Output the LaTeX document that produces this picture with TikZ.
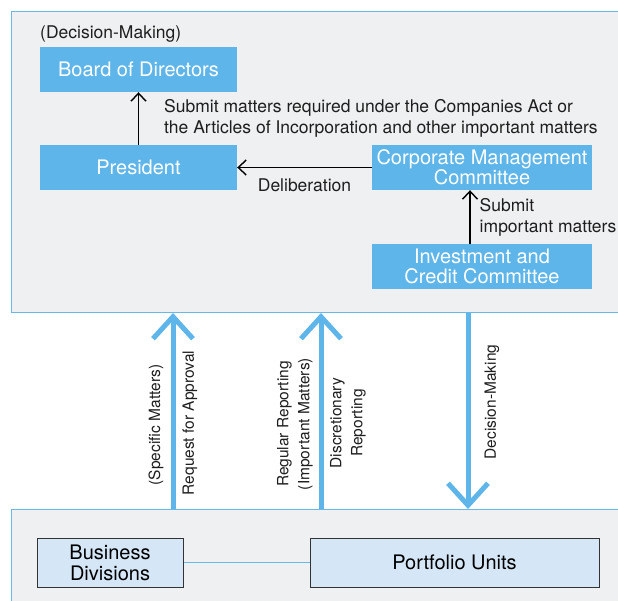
\documentclass[tikz,border=0pt]{standalone}
\usepackage{fontspec}
\setmainfont{TeX Gyre Heros}
\usetikzlibrary{arrows.meta}
\definecolor{BoxClr}{RGB}{94,181,234}
\definecolor{PanelClr}{RGB}{239,240,242}
\definecolor{EdgeClr}{RGB}{104,184,232}
\definecolor{UnitClr}{RGB}{213,230,246}
\definecolor{TextClr}{RGB}{30,30,30}

\begin{document}
\begin{tikzpicture}[x=1pt,y=-1pt,
  panel/.style={draw=EdgeClr,fill=PanelClr,line width=1pt,inner sep=0pt},
  organ/.style={fill=BoxClr,text=white,font=\fontsize{20}{20}\selectfont,align=center,inner sep=0pt,minimum height=45pt},
  unit/.style={fill=UnitClr,draw=black!80,line width=1pt,font=\fontsize{20}{21}\selectfont,align=center,inner sep=0pt,minimum height=49pt},
  note/.style={text=TextClr,font=\fontsize{17.5}{21}\selectfont,align=left,inner sep=0pt},
  flowtxt/.style={text=TextClr,font=\fontsize{15.5}{21}\selectfont,rotate=90,align=center,inner sep=0pt},
  link/.style={-{Straight Barb[length=8pt,width=15pt]},line width=1.4pt},
  bigflow/.style={-{Straight Barb[length=22pt,width=40pt]},line width=5pt,draw=BoxClr},
]
\useasboundingbox (0,0) rectangle (618,600);
\clip (0,0) rectangle (618,600);

% panels
\node[panel,minimum width=629pt,minimum height=301pt,anchor=north west] (upper) at (11,11) {};
\node[panel,minimum width=629pt,minimum height=120pt,anchor=north west] (lower) at (11,509) {};

% decision bodies
\node[organ,minimum width=197pt] (board) at (138.5,69.5) {Board of Directors};
\node[organ,minimum width=197pt] (pres) at (138.5,167.5) {President};
\node[organ,minimum width=220pt] (cmc) at (482,167.5) {Corporate Management\\Committee};
\node[organ,minimum width=220pt] (icc) at (482,266.5) {Investment and\\Credit Committee};
\node[note,anchor=west] (dm) at (40,34) {(Decision-Making)};

\draw[link] (pres) -- (board);
\node[note,anchor=west] (submit) at (164,118.5) {Submit matters required under the Companies Act or\\the Articles of Incorporation and other important matters};
\draw[link] (cmc) -- node[note,below=11pt] (delib) {Deliberation} (pres);
\draw[link] ([xshift=-12pt]icc.north) -- node[note,right=9pt] (submit2) {Submit\\important matters} ([xshift=-12pt]cmc.south);

% flows between levels
\coordinate (reqx) at (173,0);
\coordinate (repx) at (321,0);
\coordinate (decx) at (468,0);
\draw[bigflow] (reqx |- lower.north) -- (reqx |- upper.south);
\draw[bigflow] (repx |- lower.north) -- (repx |- upper.south);
\draw[bigflow] (decx |- upper.south) -- (decx |- lower.north);
\node[flowtxt] (specific) at (156,425) {(Specific Matters)};
\node[flowtxt] (request) at (190,423) {Request for Approval};
\node[flowtxt] (regular) at (295,424) {Regular Reporting\\(Important Matters)};
\node[flowtxt] (discr) at (348,423) {Discretionary\\Reporting};
\node[flowtxt] (decide) at (492,402) {Decision-Making};

% business side
\node[unit,minimum width=146pt] (biz) at (110,562.5) {Business\\Divisions};
\node[unit,minimum width=289pt] (port) at (454.5,562.5) {Portfolio Units};
\draw[EdgeClr,line width=1.2pt] (biz) -- (port);

\end{tikzpicture}
\end{document}
